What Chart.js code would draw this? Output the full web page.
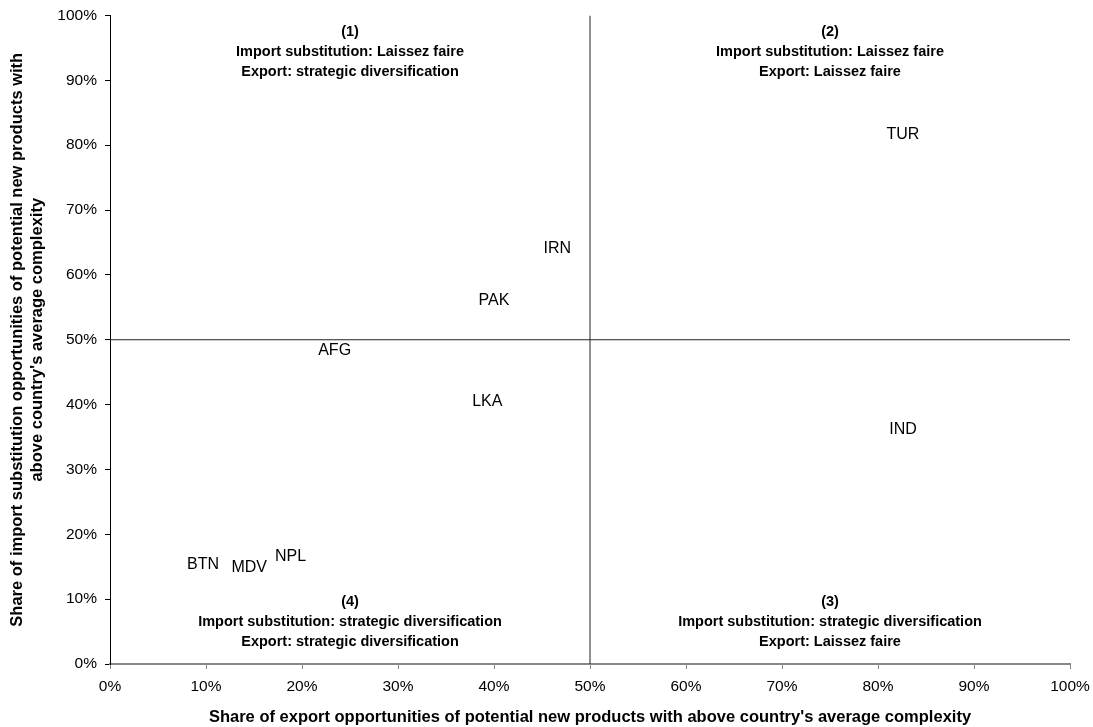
<!DOCTYPE html>
<html>
<head>
<meta charset="utf-8">
<title>Export and import substitution opportunities</title>
<script src="https://cdn.jsdelivr.net/npm/chart.js"></script>
<style>
  body { margin: 0; background: #fff; }
</style>
</head>
<body>
<canvas id="myChart" width="1093" height="727"></canvas>
<script>
  // countries and their shares (%)
  const countries = ['TUR', 'IRN', 'PAK', 'AFG', 'LKA', 'IND', 'BTN', 'MDV', 'NPL'];
  const exportShare = [82.6, 46.6, 40.0, 23.4, 39.3, 82.6, 9.7, 14.5, 18.8];
  const importShare = [81.6, 64.1, 56.0, 48.4, 40.4, 36.1, 15.3, 14.8, 16.5];

  // quadrant divider lines
  const vLineX = [50, 50];
  const vLineY = [0, 100];
  const hLineX = [0, 100];
  const hLineY = [50, 50];

  // quadrant captions: x, y of first line, lines
  const quadrantX = [25, 75, 75, 25];
  const quadrantY = [97.5, 97.5, 9.6, 9.6];
  const quadrantText = [
    ['(1)', 'Import substitution: Laissez faire', 'Export: strategic diversification'],
    ['(2)', 'Import substitution: Laissez faire', 'Export: Laissez faire'],
    ['(3)', 'Import substitution: strategic diversification', 'Export: Laissez faire'],
    ['(4)', 'Import substitution: strategic diversification', 'Export: strategic diversification']
  ];

  const xTitle = "Share of export opportunities of potential new products with above country's average complexity";
  const yTitle = ['Share of import substitution opportunities of potential new products with', "above country's average complexity"];

  const FONT = '"Liberation Sans", Arial, sans-serif';

  const labelPlugin = {
    id: 'labels',
    afterDatasetsDraw(chart) {
      const ctx = chart.ctx;
      const xs = chart.scales.x, ys = chart.scales.y;
      ctx.save();
      ctx.fillStyle = '#000';
      ctx.textAlign = 'center';
      ctx.textBaseline = 'middle';
      ctx.font = '16px ' + FONT;
      chart.getDatasetMeta(0).data.forEach((pt, i) => {
        ctx.fillText(countries[i], pt.x, pt.y);
      });
      ctx.font = 'bold 14.5px ' + FONT;
      quadrantText.forEach((lines, q) => {
        const px = xs.getPixelForValue(quadrantX[q]);
        const py = ys.getPixelForValue(quadrantY[q]);
        lines.forEach((t, k) => ctx.fillText(t, px, py + k * 20.2));
      });
      // axis titles
      ctx.font = 'bold 16.5px ' + FONT;
      ctx.fillText(xTitle, (xs.left + xs.right) / 2, 717);
      ctx.translate(0, (ys.top + ys.bottom) / 2);
      ctx.rotate(-Math.PI / 2);
      ctx.fillText(yTitle[0], 0, 17);
      ctx.fillText(yTitle[1], 0, 37);
      ctx.restore();
    }
  };

  const ctx = document.getElementById('myChart').getContext('2d');
  new Chart(ctx, {
    type: 'scatter',
    data: {
      datasets: [
        {
          label: 'Countries',
          data: countries.map((c, i) => ({ x: exportShare[i], y: importShare[i] })),
          pointRadius: 0,
          pointHoverRadius: 0
        },
        {
          label: 'v',
          data: vLineX.map((x, i) => ({ x: x, y: vLineY[i] })),
          showLine: true,
          borderColor: '#222',
          borderWidth: 1,
          pointRadius: 0
        },
        {
          label: 'h',
          data: hLineX.map((x, i) => ({ x: x, y: hLineY[i] })),
          showLine: true,
          borderColor: '#222',
          borderWidth: 1,
          pointRadius: 0
        }
      ]
    },
    options: {
      responsive: false,
      animation: false,
      events: [],
      layout: { padding: { top: 15.5, right: 23, left: 0, bottom: 0 } },
      plugins: { legend: { display: false }, tooltip: { enabled: false } },
      scales: {
        x: {
          min: 0, max: 100,
          afterFit(scale) { scale.height = 63; scale.paddingLeft = 0; scale.paddingRight = 0; },
          border: { display: true, color: '#888', width: 2 },
          grid: { display: true, drawOnChartArea: false, drawTicks: true, tickLength: 5, color: '#888' },
          ticks: {
            stepSize: 10, padding: 8, color: '#000', maxRotation: 0,
            font: { family: FONT, size: 15.5 },
            callback: v => v + '%'
          }
        },
        y: {
          min: 0, max: 100,
          afterFit(scale) { scale.width = 110; scale.paddingTop = 0; scale.paddingBottom = 0; },
          border: { display: true, color: '#000', width: 1 },
          grid: { display: true, drawOnChartArea: false, drawTicks: true, tickLength: 5, color: '#000' },
          ticks: {
            stepSize: 10, padding: 8, color: '#000',
            font: { family: FONT, size: 15.5 },
            callback: v => v + '%'
          }
        }
      }
    },
    plugins: [labelPlugin]
  });
</script>
</body>
</html>
